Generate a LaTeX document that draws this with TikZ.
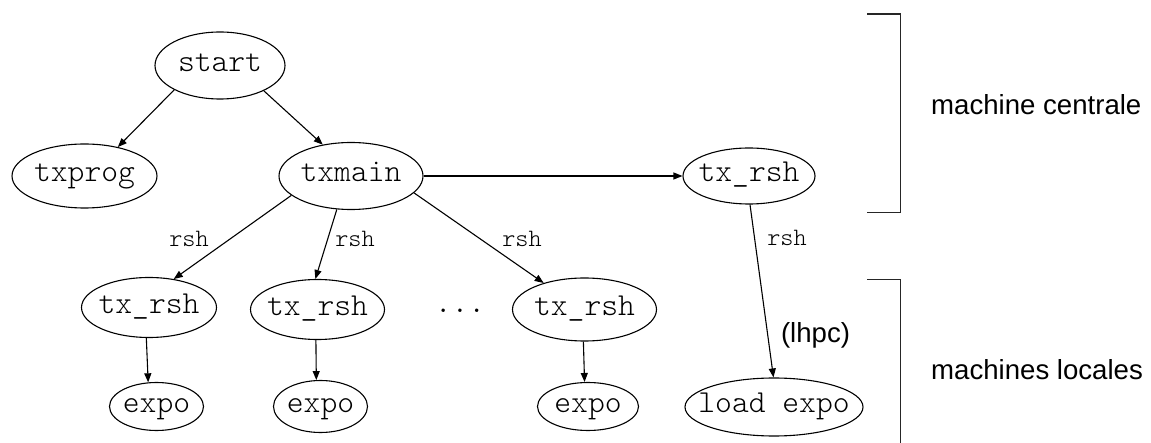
\documentclass[tikz,border=0pt]{standalone}
\usepackage{fontspec}
\setsansfont{Liberation Sans}
\setmonofont{Latin Modern Mono Light}
\usetikzlibrary{shapes.geometric,arrows.meta}

% text centred with zero width, so the ellipse size is set by the node options
\newcommand\boxedtxt[1]{\makebox[0pt]{#1}}

\tikzset{
  proc/.style={ellipse, draw, line width=1.1pt, inner sep=0pt,
    font=\ttfamily\fontsize{32}{38}\selectfont, text height=15pt, text depth=3pt},
  arr/.style={line width=1.1pt, -{Triangle[length=9pt,width=7pt]}},
  lbl/.style={font=\ttfamily\fontsize{25}{30}\selectfont, anchor=base, inner sep=0pt},
  side/.style={font=\sffamily\fontsize{27.6}{33}\selectfont, anchor=base west, inner sep=0pt},
  brk/.style={line width=1.1pt, color=black!85}
}

\begin{document}
\begin{tikzpicture}[x=1pt, y=-1pt]
\useasboundingbox (0,0) rectangle (1151,443);

% processes
\node[proc, minimum width=130pt, minimum height=67pt] (start)  at (220,65.5) {\boxedtxt{start}};
\node[proc, minimum width=145pt, minimum height=64pt] (txprog) at (84.5,176) {\boxedtxt{txprog}};
\node[proc, minimum width=144pt, minimum height=67pt] (txmain) at (351,176) {\boxedtxt{txmain}};
\node[proc, minimum width=132pt, minimum height=56pt] (txR)    at (749,176) {\boxedtxt{tx\_rsh}};

\node[proc, minimum width=135pt, minimum height=60pt] (t1) at (149,307.5)   {\boxedtxt{tx\_rsh}};
\node[proc, minimum width=134pt, minimum height=60pt] (t2) at (317.5,309.5) {\boxedtxt{tx\_rsh}};
\node[proc, minimum width=144pt, minimum height=63pt] (t3) at (584.5,309.5) {\boxedtxt{tx\_rsh}};

\node[proc, minimum width=94pt,  minimum height=48pt] (e1)   at (156.5,406.5) {\boxedtxt{expo}};
\node[proc, minimum width=94pt,  minimum height=52pt] (e2)   at (320.5,406.5) {\boxedtxt{expo}};
\node[proc, minimum width=101pt, minimum height=48pt] (e3)   at (588,406.5)   {\boxedtxt{expo}};
\node[proc, minimum width=178pt, minimum height=58pt] (load) at (774,407)     {\boxedtxt{load expo}};

\node[font=\ttfamily\fontsize{32}{38}\selectfont, anchor=base, inner sep=0pt] (dots) at (460,313) {...};

% connectors
\draw[arr] (start.208)   -- (txprog.41.7);
\draw[arr] (start.-30.7) -- (txmain.132.8);
\draw[arr] (txmain.east) -- (txR.west);
\draw[arr] (txmain.198.2) -- (t1.49.3);
\draw[arr] (txmain.247.2) -- (t2.94.7);
\draw[arr] (txmain.-15.5) -- (t3.147.2);
\draw[arr] (t1.265.9) -- (e1.109);
\draw[arr] (t2.267.4) -- (e2.99.6);
\draw[arr] (t3.268)   -- (e3.98.8);
\draw[arr] (txR.272)  -- (load.91.8);

% connector labels
\node[lbl] (l1) at (189,246.5) {rsh};
\node[lbl] (l2) at (355,246.5) {rsh};
\node[lbl] (l3) at (522,246.5) {rsh};
\node[lbl] (l4) at (787,245.5) {rsh};
\node[font=\sffamily\fontsize{27.6}{33}\selectfont, anchor=base, inner sep=0pt] (lhpc) at (815.5,343) {(lhpc)};

% machine groups
\draw[brk] (867,14) -- (900.5,14) -- (900.5,212.5) -- (867,212.5);
\draw[brk] (867,279.5) -- (900.5,279.5) -- (900.5,443);
\node[side] (central) at (931,115) {machine centrale};
\node[side] (local)   at (931,380) {machines locales};
\end{tikzpicture}
\end{document}
